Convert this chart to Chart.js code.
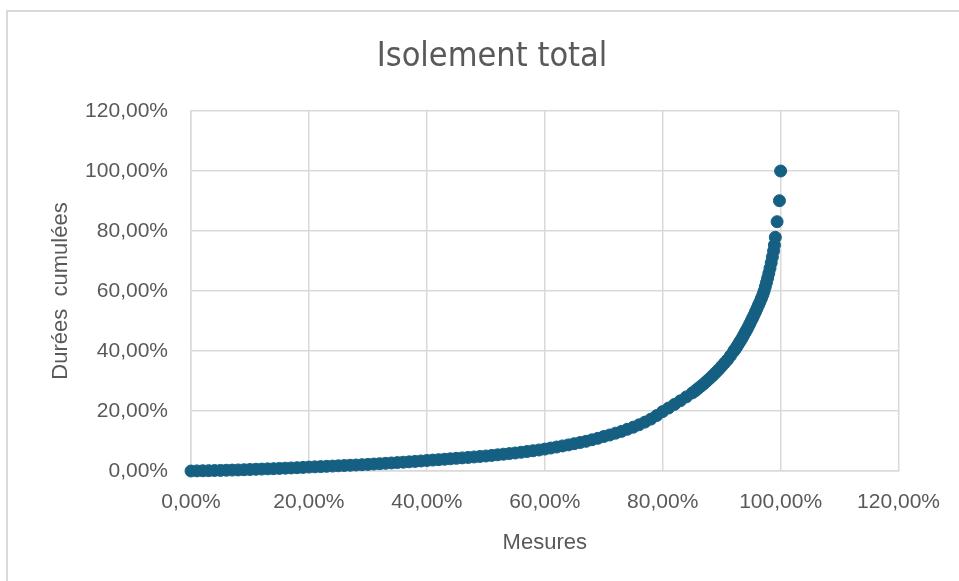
<!DOCTYPE html>
<html>
<head>
<meta charset="utf-8">
<script src="https://cdn.jsdelivr.net/npm/chart.js@4/dist/chart.umd.min.js"></script>
<style>
  html, body { margin: 0; padding: 0; background: #fff; }
  #wrap { position: relative; width: 959px; height: 581px; overflow: hidden; }
  #frame { position: absolute; left: 6px; top: 10px; width: 980px; height: 600px;
           border-left: 2px solid #d9d9d9; border-top: 2px solid #d9d9d9; }
  #scatterChart { position: absolute; left: 0; top: 0; }
</style>
</head>
<body>
<div id="wrap">
  <div id="frame"></div>
  <canvas id="scatterChart" width="959" height="581"></canvas>
</div>
<script>
const mesures = [
  0, 1, 2, 3, 4, 5, 6, 7, 8, 9, 10,
  11, 12, 13, 14, 15, 16, 17, 18, 19, 20,
  21, 22, 23, 24, 25, 26, 27, 28, 29, 30,
  31, 32, 33, 34, 35, 36, 37, 38, 39, 40,
  41, 42, 43, 44, 45, 46, 47, 48, 49, 50,
  51, 52, 53, 54, 55, 56, 57, 58, 59, 60,
  61, 62, 63, 64, 65, 66, 67, 68, 69, 70,
  71, 72, 73, 74, 75, 76, 77, 78, 79, 80,
  81, 82, 83, 84, 85,
  85.5, 86, 86.5, 87, 87.5, 88, 88.5, 89, 89.5, 90, 90.5, 91, 91.5, 92,
  92.25, 92.5, 92.75, 93, 93.25, 93.5, 93.75, 94, 94.25, 94.5, 94.75, 95,
  95.25, 95.5, 95.75, 96, 96.25, 96.5, 96.75, 97,
  97.2, 97.4, 97.6, 97.8, 98, 98.2, 98.4, 98.6, 98.8,
  98.95, 99.1, 99.4, 99.8, 100
];

// Durées cumulées (%)
const dureesCumulees = [
  0, 0.04, 0.08, 0.12, 0.16, 0.2, 0.25, 0.3, 0.35, 0.42, 0.5,
  0.57, 0.64, 0.71, 0.78, 0.86, 0.94, 1.02, 1.1, 1.2, 1.3,
  1.38, 1.46, 1.55, 1.64, 1.73, 1.82, 1.91, 2.0, 2.1, 2.2,
  2.32, 2.44, 2.56, 2.68, 2.8, 2.93, 3.06, 3.2, 3.35, 3.5,
  3.64, 3.78, 3.92, 4.07, 4.22, 4.37, 4.52, 4.68, 4.84, 5.0,
  5.2, 5.4, 5.6, 5.8, 6.0, 6.25, 6.5, 6.75, 7.0, 7.3,
  7.65, 8.0, 8.35, 8.7, 9.1, 9.5, 9.9, 10.4, 10.9, 11.5,
  12.0, 12.6, 13.2, 13.9, 14.6, 15.4, 16.3, 17.3, 18.5, 19.8,
  21.0, 22.2, 23.4, 24.7, 26.0,
  26.7, 27.5, 28.3, 29.1, 30.0, 30.9, 31.8, 32.8, 33.8, 34.9, 36.0, 37.1, 38.4, 39.8,
  40.5, 41.2, 42.0, 42.8, 43.6, 44.4, 45.3, 46.2, 47.1, 48.0, 49.0, 50.0,
  51.0, 52.0, 53.1, 54.2, 55.3, 56.4, 57.6, 58.8,
  60.0, 61.4, 62.8, 64.3, 65.9, 67.6, 69.4, 71.3, 73.3,
  75.3, 77.9, 83.1, 90.1, 100
];

const axisMin = 0;
const axisMax = 120;
const axisStep = 20;

const gridColor = '#d9d9d9';
const textColor = '#595959';
const pointColor = '#156082';

const fmtPct = v => v.toFixed(2).replace('.', ',') + '%';

const points = mesures.map((x, i) => ({ x: x, y: dureesCumulees[i] }));

// Title drawn at a fixed spot, centred as in the original
const titlePlugin = {
  id: 'fixedTitle',
  afterDraw(chart) {
    const ctx = chart.ctx;
    ctx.save();
    ctx.fillStyle = textColor;
    ctx.font = '34px "Liberation Sans Narrow", "DejaVu Sans Condensed", sans-serif';
    ctx.textAlign = 'center';
    ctx.textBaseline = 'middle';
    ctx.fillText('Isolement total', 492, 57);
    ctx.restore();
  }
};

const ctx = document.getElementById('scatterChart').getContext('2d');
new Chart(ctx, {
  type: 'scatter',
  data: {
    datasets: [{
      label: 'Isolement total',
      data: points,
      backgroundColor: pointColor,
      borderColor: pointColor,
      borderWidth: 1,
      pointRadius: 6,
      pointHoverRadius: 6,
      clip: false
    }]
  },
  options: {
    responsive: false,
    animation: false,
    layout: { padding: { left: 44, right: 60, top: 111, bottom: 21 } },
    plugins: {
      legend: { display: false },
      tooltip: { enabled: false }
    },
    scales: {
      x: {
        type: 'linear',
        min: axisMin,
        max: axisMax,
        afterFit: s => { s.height = 89; },
        ticks: {
          stepSize: axisStep,
          padding: 19,
          color: textColor,
          font: { family: '"Liberation Sans", Arial, sans-serif', size: 21 },
          callback: fmtPct,
          maxRotation: 0
        },
        grid: { color: gridColor, lineWidth: 1.5, drawTicks: false },
        border: { color: gridColor, width: 1.5 },
        title: {
          display: true,
          text: 'Mesures',
          color: textColor,
          font: { family: '"Liberation Sans", Arial, sans-serif', size: 22 }
        }
      },
      y: {
        type: 'linear',
        min: axisMin,
        max: axisMax,
        afterFit: s => { s.width = 147; },
        ticks: {
          stepSize: axisStep,
          padding: 23,
          color: textColor,
          font: { family: '"Liberation Sans", Arial, sans-serif', size: 21 },
          callback: fmtPct
        },
        grid: { color: gridColor, lineWidth: 1.5, drawTicks: false },
        border: { color: gridColor, width: 1.5 },
        title: {
          display: true,
          text: 'Durées  cumulées',
          color: textColor,
          font: { family: '"Liberation Sans", Arial, sans-serif', size: 22 }
        }
      }
    }
  },
  plugins: [titlePlugin]
});
</script>
</body>
</html>
